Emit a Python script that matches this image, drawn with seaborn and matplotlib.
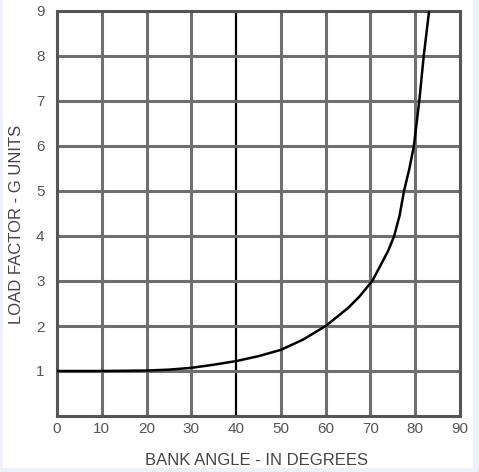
import matplotlib
matplotlib.use("Agg")
import matplotlib.pyplot as plt
import seaborn as sns
import pandas as pd
from matplotlib.patches import Rectangle

# Values
bank_angle = [0, 10, 20, 25, 30, 35, 40, 45, 50, 55, 60, 62.5, 65, 67.5, 70.4, 72, 74, 75.3, 76.5, 77.5, 78.7, 79.7, 80.9, 81.9, 83.1]
load_factor = [1.0, 1.0, 1.01, 1.03, 1.07, 1.14, 1.22, 1.33, 1.47, 1.70, 2.0, 2.2, 2.4, 2.65, 3.0, 3.3, 3.68, 4.0, 4.45, 5.0, 5.5, 6.0, 7.0, 8.0, 9.0]
x_ticks = [0, 10, 20, 30, 40, 50, 60, 70, 80, 90]
y_ticks = [1, 2, 3, 4, 5, 6, 7, 8, 9]

df = pd.DataFrame({"angle": bank_angle, "load": load_factor})

sns.set_style("white")
plt.rcParams["font.family"] = ["Liberation Sans", "DejaVu Sans"]

fig = plt.figure(figsize=(4.79, 4.72), dpi=100, facecolor="#eef1f9")
fig.patches.append(Rectangle((3 / 479, 4 / 472), 470 / 479, 468 / 472,
                             transform=fig.transFigure, facecolor="white",
                             edgecolor="none", zorder=-10))
ax = fig.add_axes([57 / 479, 56 / 472, 403 / 479, 405 / 472])
ax.set_zorder(5)
ax.set_facecolor("white")

grid_col = "#6f6f6f"
for xv in x_ticks:
    if xv in (0, 90):
        continue
    ax.axvline(xv, color="black" if xv == 40 else grid_col,
               lw=1.6 if xv == 40 else 2.2, zorder=1)
for yv in y_ticks[:-1]:
    ax.axhline(yv, color=grid_col, lw=2.2, zorder=1)

sns.lineplot(data=df, x="angle", y="load", ax=ax, color="black", lw=1.8,
             zorder=3, estimator=None, sort=False)

ax.set_xlim(0, 90)
ax.set_ylim(0, 9)
ax.set_xticks(x_ticks)
ax.set_yticks(y_ticks)
ax.tick_params(axis="both", length=0, labelsize=11, labelcolor="#555555")
ax.tick_params(axis="x", pad=4.5)
ax.tick_params(axis="y", pad=9)

for s in ax.spines.values():
    s.set_visible(True)
    s.set_color("#555555")
    s.set_linewidth(2.2)

ax.set_xlabel("BANK ANGLE - IN DEGREES", fontsize=12, color="#444444")
ax.set_ylabel("LOAD FACTOR - G UNITS", fontsize=12, color="#444444")
ax.xaxis.set_label_coords(0.494, -0.0914)
ax.yaxis.set_label_coords(-0.082, 0.474)

fig.savefig("out.png", dpi=100, facecolor=fig.get_facecolor())
